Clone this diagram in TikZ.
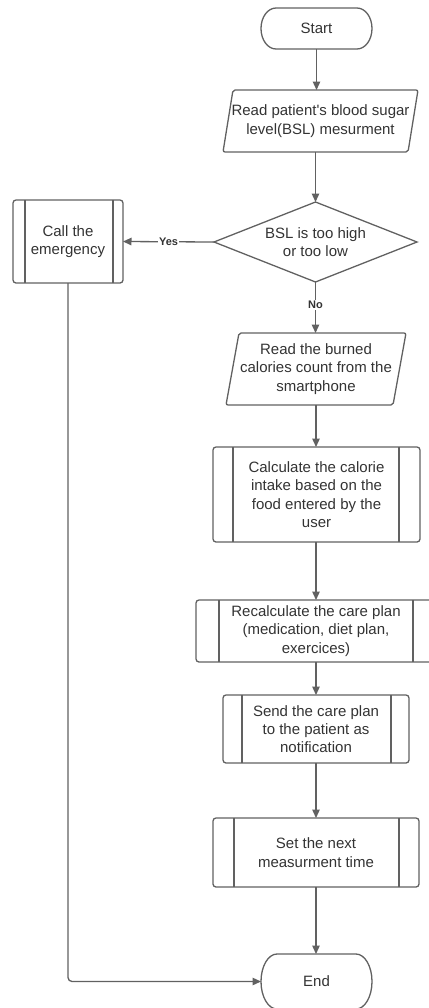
\documentclass[tikz,border=0pt]{standalone}
\usepackage{fontspec}
\setmainfont{Liberation Sans}
\usetikzlibrary{arrows.meta,calc}
\definecolor{lg}{HTML}{616161}
\definecolor{tg}{HTML}{333333}
\newcommand\termline[3]{\draw[ln] ([xshift=#2]#1.north west) -- ([xshift=-#2]#1.north east) arc[start angle=90,end angle=-90,x radius=#2,y radius=#3] -- ([xshift=#2]#1.south west) arc[start angle=270,end angle=90,x radius=#2,y radius=#3] -- cycle;}
\newcommand\subl[3]{\draw[ln] ([xshift=#2]#1.north west) -- ([xshift=#2]#1.south west);
  \draw[ln] ([xshift=-#3]#1.north east) -- ([xshift=-#3]#1.south east);}
\newcommand\parl[2]{\draw[ln,rounded corners=2bp] ([xshift=#2]#1.north west) -- (#1.north east) -- ([xshift=-#2]#1.south east) -- (#1.south west) -- cycle;}
\begin{document}
\begin{tikzpicture}[x=1bp,y=1bp,
  every node/.style={font=\fontsize{15bp}{18.3bp}\selectfont, text=tg, align=center, inner sep=0pt, outer sep=0pt},
  ln/.style={draw=lg, line width=1.3bp},
  shape box/.style={draw=none, minimum width=#1},
  sub/.style={ln, rounded corners=3bp, minimum width=#1},
  arr/.style={ln, -{Triangle[length=8.5bp,width=7.5bp]}},
  lbl/.style={font=\bfseries\fontsize{11bp}{13bp}\selectfont, fill=white, inner sep=1.5bp, text=tg}]
\useasboundingbox (0,0) rectangle (428,-1008);

% nodes
\node[shape box=111bp, minimum height=41bp] (start) at (316.5,-28.5) {Start};
\termline{start}{15bp}{20.5bp}

\node[shape box=195bp, minimum height=62bp] (p1) at (320.5,-121) {Read patient\textquotesingle s blood sugar\\level(BSL) mesurment};
\parl{p1}{10bp}

\node[shape box=203bp, minimum height=80bp] (d) at (315.5,-242) {BSL is too high\\or too low};
\draw[ln] (d.north) -- (d.east) -- (d.south) -- (d.west) -- cycle;

\node[sub=110bp, minimum height=83bp] (call) at (68,-241.5) {Call the\\emergency};
\subl{call}{12bp}{10bp}

\node[shape box=180bp, minimum height=72bp] (p2) at (316,-369) {Read the burned\\calories count from the\\smartphone};
\parl{p2}{13bp}

\node[sub=207bp, minimum height=95bp] (calc) at (316.5,-494.5) {Calculate the calorie\\intake based on the\\food entered by the\\user};
\subl{calc}{20bp}{21bp}

\node[sub=240bp, minimum height=62bp] (recalc) at (316,-631) {Recalculate the care plan\\(medication, diet plan,\\exercices)};
\subl{recalc}{23bp}{23bp}

\node[sub=186bp, minimum height=68bp] (send) at (316,-729) {Send the care plan\\to the patient as\\notification};
\subl{send}{19bp}{18bp}

\node[sub=206bp, minimum height=69bp] (set) at (316,-852.5) {Set the next\\measurment time};
\subl{set}{21bp}{20bp}

\node[shape box=111bp, minimum height=55bp] (end) at (316.5,-981.5) {End};
\termline{end}{16bp}{27.5bp}

% connectors
\draw[arr] (start.south) -- (start.south |- p1.north);
\draw[arr] (d.north |- p1.south) -- (d.north);
\draw[arr] (d.west) -- (call.east) node[lbl, pos=0.5] {Yes};
\draw[arr] (d.south) -- (d.south |- p2.north) node[lbl, pos=0.45] {No};
\draw[arr] (p2.south) -- (p2.south |- calc.north);
\draw[arr] (p2.south |- calc.south) -- (p2.south |- recalc.north);
\draw[arr] (recalc.south) -- (send.north);
\draw[arr] (send.south) -- (set.north);
\draw[arr] (set.south) -- (set.south |- end.north);
\draw[arr, rounded corners=4bp] (call.south) |- (end.west);
\end{tikzpicture}
\end{document}
